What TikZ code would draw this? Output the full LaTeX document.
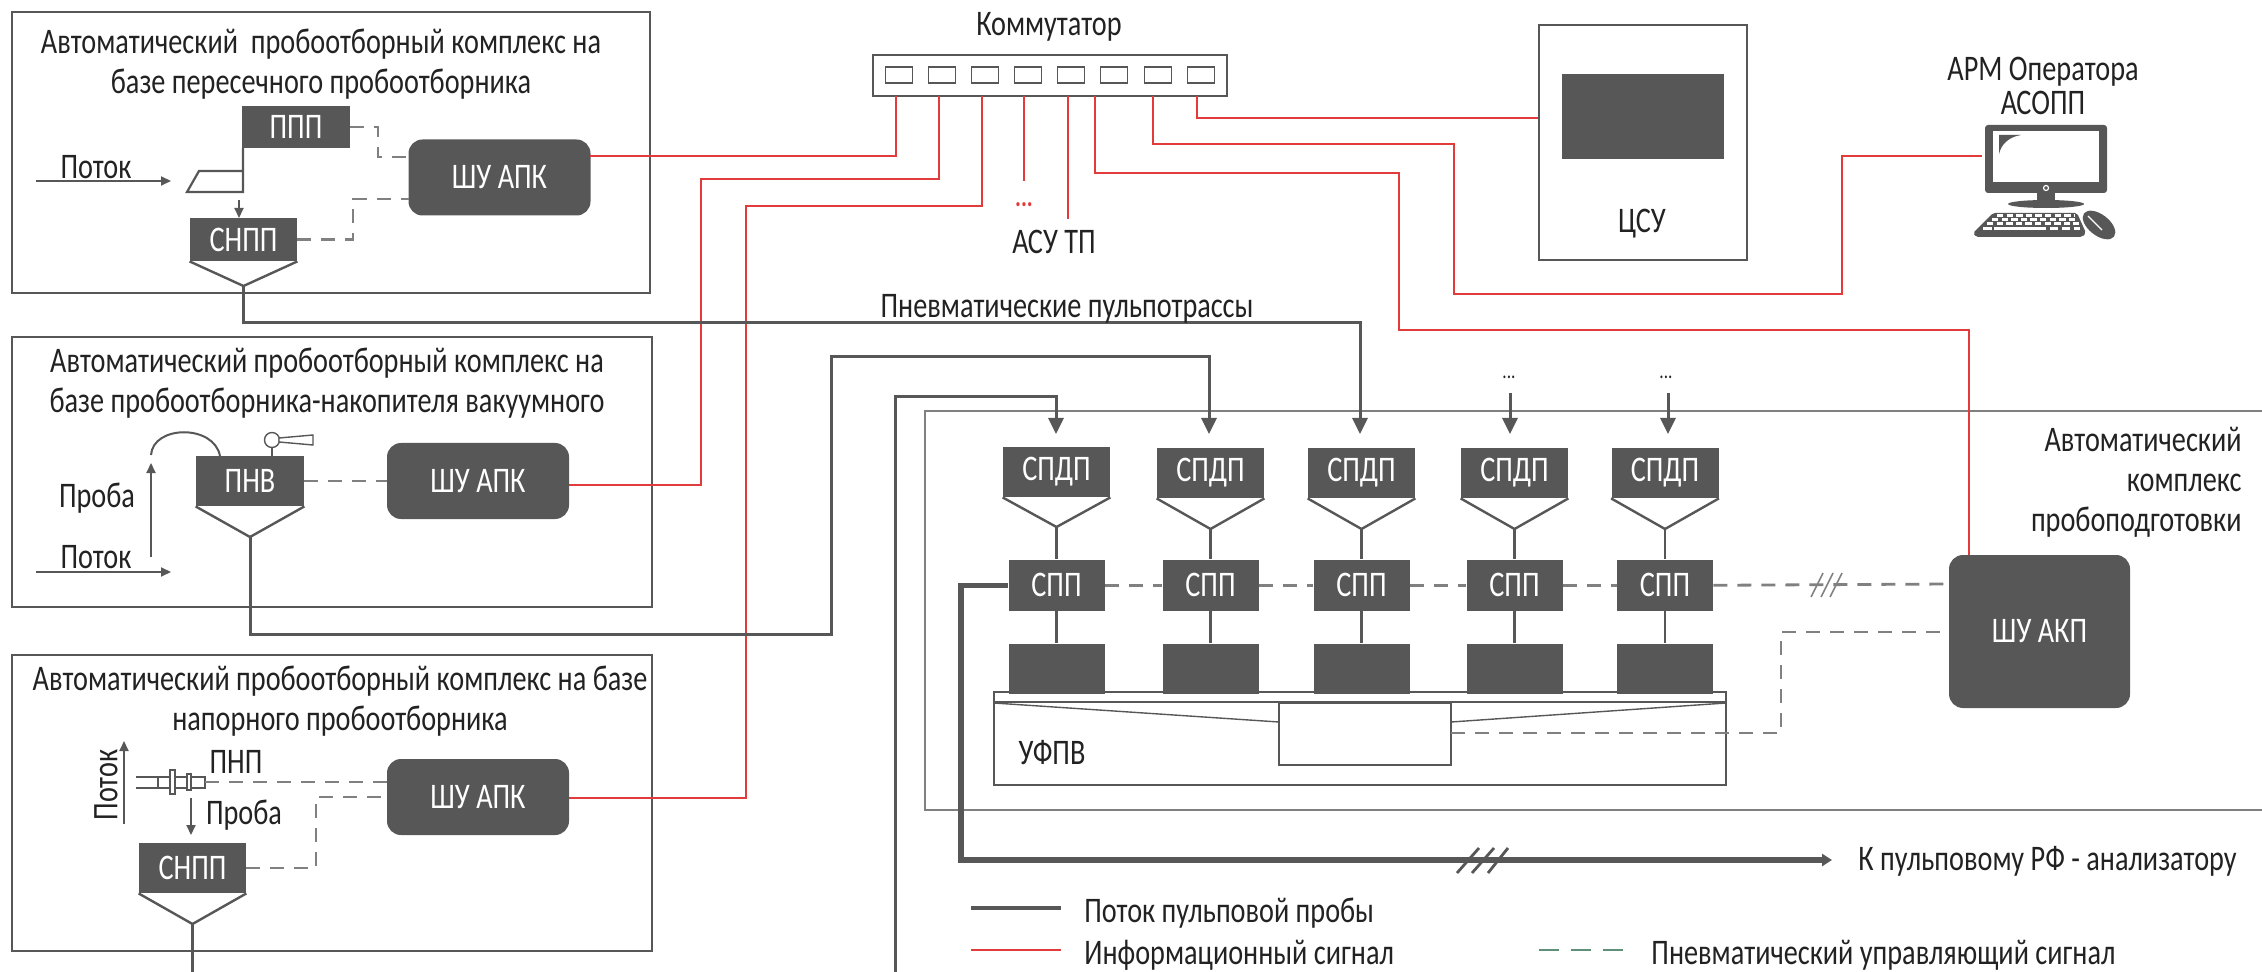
\documentclass[tikz,border=0pt]{standalone}
\usepackage{fontspec}
\setmainfont{Carlito}[FakeStretch=0.785]
\usepackage{xcolor}
\usepackage{tikz}
\usetikzlibrary{arrows.meta,positioning,calc}
\definecolor{boxgray}{HTML}{575757}
\definecolor{dashgray}{HTML}{808080}
\definecolor{sigred}{HTML}{E23B3B}
\definecolor{leggreen}{HTML}{5E8F78}
\definecolor{txt}{HTML}{222222}
\tikzset{
  lbl/.style={inner sep=0pt,text=txt,font=\fontsize{18}{20}\selectfont,align=center},
  darkbox/.style={fill=boxgray,draw=none,inner sep=0pt,text=white,font=\fontsize{18}{20}\selectfont},
  ctrlbox/.style={darkbox,rounded corners=7pt,minimum width=91pt,minimum height=38pt},
  cspdp/.style={darkbox,minimum width=53.5pt,minimum height=25pt},
  cspp/.style={darkbox,minimum width=48pt,minimum height=25.5pt},
  cbase/.style={darkbox,minimum width=48pt,minimum height=25pt},
  group/.style={draw=boxgray,line width=1.3pt,inner sep=0pt},
  port/.style={draw=boxgray,line width=.9pt,fill=white,inner sep=0pt,minimum width=13.5pt,minimum height=8pt},
  thinbox/.style={draw=boxgray,line width=.8pt,inner sep=0pt},
  hopper/.style={draw=boxgray,line width=1.2pt},
  pulp/.style={draw=boxgray,line width=1.5pt},
  pulparrow/.style={pulp,-{Stealth[length=8pt,width=7.5pt,inset=0pt]}},
  smallarrow/.style={draw=boxgray,line width=1pt,-{Stealth[length=5pt,width=4.5pt,inset=0pt]}},
  signal/.style={draw=sigred,line width=.9pt},
  pneu/.style={draw=dashgray,line width=1.4pt,dash pattern=on 7pt off 5pt}
}
\begin{document}
\begin{tikzpicture}[x=.5pt,y=-.5pt]
  \useasboundingbox (0,0) rectangle (2262,972);

  \node[group,minimum width=319pt,minimum height=140.5pt] (g1) at (331,152.5) {};
  \node[group,minimum width=320pt,minimum height=135pt] (g2) at (332,472) {};
  \node[group,minimum width=320pt,minimum height=148pt] (g3) at (332,803) {};
  \draw[draw=dashgray,line width=.8pt] (2262,411) -| (925,810) -- (2262,810);

  \node[lbl] (t1) at (321,64) {Автоматический\ \ пробоотборный комплекс на\\базе пересечного пробоотборника};
  \node[lbl] (t2) at (327,383) {Автоматический пробоотборный комплекс на\\базе пробоотборника-накопителя вакуумного};
  \node[lbl] (t3) at (340,701) {Автоматический пробоотборный комплекс на базе\\напорного пробоотборника};

  \node[darkbox,minimum width=54pt,minimum height=21pt] (ppp) at (296,127) {ППП};
  \node[darkbox,minimum width=53.5pt,minimum height=21.5pt] (snpp1) at (243.5,239.5) {СНПП};
  \node[ctrlbox] (shu1) at (499.5,177.5) {ШУ АПК};
  \node[lbl] (flow1) at (96,167) {Поток};
  \coordinate (fa1) at (36,181);
  \coordinate (fb1) at (171,181);
  \coordinate (tip1) at (243.5,286);
  \coordinate (sa1) at (239,200);
  \coordinate (sb1) at (239,218);
  \draw[smallarrow] (fa1) -- (fb1);
  \draw[smallarrow] (sa1) -- (sb1);
  \draw[draw=boxgray,line width=1.1pt] (243,148) -- (243,192) -- (187,192) -- (199,171) -- (243,171);
  \draw[hopper] (snpp1.south west) -- (tip1) -- (snpp1.south east);
  \draw[pneu] (ppp.east) -- (378,127) |- (409,157);
  \draw[pneu] (snpp1.east) -| (353,199) -- (409,199);

  \node[darkbox,minimum width=54pt,minimum height=25pt] (pnv) at (250,481) {ПНВ};
  \node[ctrlbox] (shu2) at (478,481) {ШУ АПК};
  \node[lbl] (sample2) at (97,498) {Проба};
  \node[lbl] (flow2) at (96,557) {Поток};
  \coordinate (fa2) at (36,572);
  \coordinate (fb2) at (171,572);
  \coordinate (sa2) at (151,557);
  \coordinate (sb2) at (151,463);
  \coordinate (tip2) at (250,537);
  \draw[smallarrow] (fa2) -- (fb2);
  \draw[smallarrow] (sa2) -- (sb2);
  \draw[draw=boxgray,line width=1pt] (151,455) .. controls (153,425) and (214,424) .. (220,456);
  \draw[draw=boxgray,line width=.7pt] (272,456) -- (272,447);
  \draw[draw=boxgray,line width=.7pt,fill=white] (272,440) circle [radius=7.5];
  \draw[draw=boxgray,line width=.7pt,fill=white] (279,438) -- (313,435) -- (313,445) -- (279,442) -- cycle;
  \draw[hopper] (pnv.south west) -- (tip2) -- (pnv.south east);
  \draw[pneu] (pnv) -- (shu2);

  \node[ctrlbox] (shu3) at (478,797) {ШУ АПК};
  \node[darkbox,minimum width=53.5pt,minimum height=25pt] (snpp3) at (192.5,868) {СНПП};
  \node[lbl,rotate=90] (flow3) at (106,785) {Поток};
  \node[lbl] (pnp) at (236,762) {ПНП};
  \node[lbl] (sample3) at (244,815) {Проба};
  \coordinate (fa3) at (124,824);
  \coordinate (fb3) at (124,741);
  \coordinate (sa3) at (191,798);
  \coordinate (sb3) at (191,835);
  \coordinate (tip3) at (192.5,924);
  \coordinate (q3) at (387,782);
  \coordinate (q4) at (387,797);
  \draw[smallarrow] (fa3) -- (fb3);
  \draw[smallarrow] (sa3) -- (sb3);
  \draw[draw=boxgray,line width=.7pt] (136,777) -- (158,777);
  \draw[draw=boxgray,line width=.7pt] (136,788) -- (158,788);
  \draw[draw=boxgray,line width=.7pt] (158,777) rectangle (205,788);
  \draw[draw=boxgray,line width=.7pt,fill=white] (170,770) rectangle (175,794);
  \draw[draw=boxgray,line width=.7pt,fill=white] (187,774) rectangle (191,790);
  \draw[hopper] (snpp3.south west) -- (tip3) -- (snpp3.south east);
  \coordinate (end3) at (192.5,972);
  \draw[pulp] (tip3) -- (end3);
  \draw[pneu] (205,782) -- (q3);
  \draw[pneu] (snpp3.east) -| (316,797) -- (q4);

  \node[lbl] (switchname) at (1049,27) {Коммутатор};
  \node[draw=boxgray,line width=1.1pt,fill=white,inner sep=0pt,minimum width=177pt,minimum height=20.5pt] (sw) at (1050,75.5) {};
  \node[port] (p1) at (899,75) {};
  \node[port] (p2) at (942,75) {};
  \node[port] (p3) at (985,75) {};
  \node[port] (p4) at (1028,75) {};
  \node[port] (p5) at (1071,75) {};
  \node[port] (p6) at (1114,75) {};
  \node[port] (p7) at (1158,75) {};
  \node[port] (p8) at (1201,75) {};
  \coordinate (r1) at (896,96);
  \coordinate (r2) at (939,96);
  \coordinate (r3) at (982,96);
  \coordinate (r4) at (1024,96);
  \coordinate (r5) at (1068,96);
  \coordinate (r6) at (1095,96);
  \coordinate (r7) at (1153,96);
  \coordinate (r8) at (1197,96);
  \coordinate (e1) at (590,156);
  \coordinate (e2) at (569,485);
  \coordinate (e3) at (569,798);
  \coordinate (e4) at (1024,181);
  \coordinate (e5) at (1068,219);
  \coordinate (e6) at (1969,555);
  \coordinate (e7) at (1982,156);
  \coordinate (e8) at (1539,118);
  \draw[signal] (r1) |- (e1);
  \draw[signal] (r2) |- (701,179) |- (e2);
  \draw[signal] (r3) |- (746,206) |- (e3);
  \draw[signal] (r4) -- (e4);
  \draw[signal] (r5) -- (e5);
  \draw[signal] (r6) |- (1399,173) |- (1969,330) -- (e6);
  \draw[signal] (r7) |- (1454,144) |- (1842,294) |- (e7);
  \draw[signal] (r8) |- (e8);
  \node[lbl,text=sigred,font=\fontsize{14}{16}\selectfont\bfseries] (reddots) at (1024,205) {...};
  \node[lbl] (asutp) at (1054,242) {АСУ ТП};

  \node[draw=boxgray,line width=1.2pt,inner sep=0pt,minimum width=104pt,minimum height=117.5pt] (csu) at (1643,142.5) {};
  \node[darkbox,minimum width=81pt,minimum height=42.5pt] (csuscreen) at (1643,116.5) {};
  \node[lbl] (csuname) at (1642,224) {ЦСУ};

  \node[lbl,font=\fontsize{18}{17}\selectfont] (arm) at (2043,86) {АРМ Оператора\\АСОПП};
  \fill[boxgray,rounded corners=1.5pt] (1985,125) rectangle (2107,193);
  \fill[white] (1993,131) rectangle (2099,182);
  \fill[boxgray] (1999,135) -- (2021,135) .. controls (2008,137) and (2001,145) .. (1999,154) -- cycle;
  \draw[white,line width=.6pt] (2046,188) circle [radius=2.5];
  \fill[boxgray] (2037,193) rectangle (2055,205);
  \fill[boxgray] (2046,204) ellipse [x radius=38,y radius=4];
  \fill[boxgray,rounded corners=1pt] (1993,213) -- (2077,213) -- (2086,233) -- (2082,237) -- (1976,237) -- (1973,233) -- cycle;
  \draw[white,line width=1.4pt,dash pattern=on 3.2pt off 1.6pt] (1997,215.5) -- (2075,215.5);
  \draw[white,line width=1.4pt,dash pattern=on 3.2pt off 1.6pt] (1992,219.5) -- (2077,219.5);
  \draw[white,line width=1.4pt,dash pattern=on 3.2pt off 1.6pt] (1987,223.5) -- (2079,223.5);
  \draw[white,line width=1.6pt] (1983,228.5) -- (1992,228.5);
  \draw[white,line width=1.6pt] (1994,228.5) -- (2046,228.5);
  \draw[white,line width=1.6pt,dash pattern=on 4pt off 2pt] (2050,228.5) -- (2080,228.5);
  \fill[boxgray,rotate around={-38:(2099,225)}] (2099,225) ellipse [x radius=19,y radius=10.5];
  \draw[white,line width=.6pt] (2088,216) -- (2102,230);

  \draw[pulparrow] (tip1) |- (1360,323) -- (1360,434);
  \draw[pulparrow] (tip2) |- (831,634) |- (1209,357) -- (1209,434);
  \draw[pulparrow] (895,972) |- (1056,397) -- (1056,434);
  \coordinate (da4) at (1510,393);
  \coordinate (db4) at (1510,434);
  \coordinate (da5) at (1668,393);
  \coordinate (db5) at (1668,434);
  \draw[pulparrow] (da4) -- (db4);
  \draw[pulparrow] (da5) -- (db5);
  \node[lbl] (pipes) at (1067,309) {Пневматические пульпотрассы};
  \node[lbl,font=\fontsize{11}{12}\selectfont] (dots4) at (1509,377) {...};
  \node[lbl,font=\fontsize{11}{12}\selectfont] (dots5) at (1666,377) {...};

  \node[lbl,align=right,anchor=north east] (akpname) at (2242,427) {Автоматический\\комплекс\\пробоподготовки};

  \node[cspdp] (d1) at (1056.5,472) {СПДП};
  \node[cspdp] (d2) at (1210.5,473) {СПДП};
  \node[cspdp] (d3) at (1361.5,473) {СПДП};
  \node[cspdp] (d4) at (1514.5,473) {СПДП};
  \node[cspdp] (d5) at (1665,473) {СПДП};
  \coordinate (h1) at (1056.5,527);
  \coordinate (h2) at (1210.5,529);
  \coordinate (h3) at (1361.5,529);
  \coordinate (h4) at (1514.5,529);
  \coordinate (h5) at (1665,529);
  \draw[hopper] (d1.south west) -- (h1) -- (d1.south east);
  \draw[hopper] (d2.south west) -- (h2) -- (d2.south east);
  \draw[hopper] (d3.south west) -- (h3) -- (d3.south east);
  \draw[hopper] (d4.south west) -- (h4) -- (d4.south east);
  \draw[hopper] (d5.south west) -- (h5) -- (d5.south east);
  \node[cspp,below=31pt of d1] (c1) {СПП};
  \node[cspp,below=30.5pt of d2] (c2) {СПП};
  \node[cspp,below=30.5pt of d3] (c3) {СПП};
  \node[cspp,below=30.5pt of d4] (c4) {\raisebox{-3pt}{СПП}};
  \node[cspp,below=30.5pt of d5] (c5) {СПП};
  \node[cbase,below=16pt of c1] (b1) {};
  \node[cbase,below=16pt of c2] (b2) {};
  \node[cbase,below=16pt of c3] (b3) {};
  \node[cbase,below=16pt of c4] (b4) {};
  \node[cbase,below=16pt of c5] (b5) {};
  \draw[hopper] (h1) -- (c1) -- (b1);
  \draw[hopper] (h2) -- (c2) -- (b2);
  \draw[hopper] (h3) -- (c3) -- (b3);
  \draw[hopper] (h4) -- (c4) -- (b4);
  \draw[hopper] (h5) -- (c5) -- (b5);

  \node[thinbox,minimum width=366pt,minimum height=46.5pt] (ufpv) at (1360,738.5) {};
  \draw[draw=boxgray,line width=1pt] (ufpv.north west |- 0,702) -- (ufpv.north east |- 0,702);
  \node[thinbox,minimum width=86pt,minimum height=31pt] (ufpvin) at (1365,734) {};
  \draw[draw=boxgray,line width=.7pt] (994,703) -- (1279,722);
  \draw[draw=boxgray,line width=.7pt] (1726,703) -- (1451,722);
  \node[lbl] (ufpvname) at (1052,753) {УФПВ};

  \node[darkbox,rounded corners=7pt,minimum width=90.5pt,minimum height=76.5pt] (shuakp) at (2039.5,631.5) {ШУ АКП};
  \coordinate (k1) at (1949,584);
  \coordinate (k2) at (1949,632);
  \coordinate (u1) at (1451,733);
  \draw[pneu] (c1.east) -- (c2.west);
  \draw[pneu] (c2.east) -- (c3.west);
  \draw[pneu] (c3.east) -- (c4.west);
  \draw[pneu] (c4.east) -- (c5.west);
  \draw[pneu] (c5.east) -- (k1);
  \draw[pneu] (u1) -| (1781,632) -- (k2);
  \draw[draw=dashgray,line width=.8pt] (1811,597) -- (1823,573);
  \draw[draw=dashgray,line width=.8pt] (1821,597) -- (1833,573);
  \draw[draw=dashgray,line width=.8pt] (1830,597) -- (1842,573);

  \coordinate (out) at (1832,860);
  \draw[draw=boxgray,line width=2.8pt,-{Stealth[length=5pt,width=6pt,inset=0pt]}] (c1.west) -| (961,860) -- (out);
  \draw[draw=boxgray,line width=1.4pt] (1457,873) -- (1479,848);
  \draw[draw=boxgray,line width=1.4pt] (1472,873) -- (1494,848);
  \draw[draw=boxgray,line width=1.4pt] (1488,873) -- (1508,848);
  \node[lbl,anchor=west] (outname) at (1858,861) {К пульповому РФ - анализатору};

  \coordinate (la1) at (971,908);
  \coordinate (lb1) at (1061,908);
  \coordinate (la2) at (971,950);
  \coordinate (lb2) at (1061,950);
  \coordinate (la3) at (1539,950);
  \coordinate (lb3) at (1629,950);
  \draw[draw=boxgray,line width=2.2pt] (la1) -- (lb1);
  \draw[signal] (la2) -- (lb2);
  \draw[draw=leggreen,line width=1.2pt,dash pattern=on 10pt off 6pt] (la3) -- (lb3);
  \node[lbl,anchor=west] (leg1) at (1084,913) {Поток пульповой пробы};
  \node[lbl,anchor=west] (leg2) at (1084,955) {Информационный сигнал};
  \node[lbl,anchor=west] (leg3) at (1651,955) {Пневматический управляющий сигнал};
\end{tikzpicture}
\end{document}
